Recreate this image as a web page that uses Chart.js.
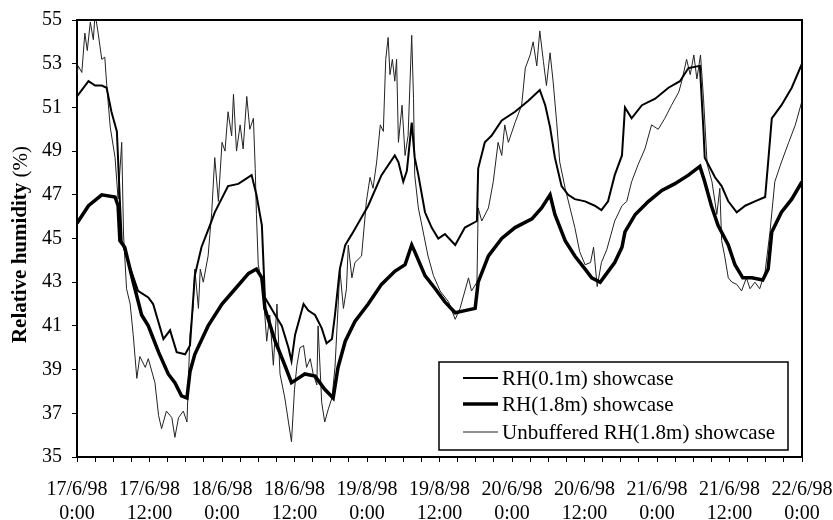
<!DOCTYPE html>
<html><head><meta charset="utf-8">
<script src="https://cdn.jsdelivr.net/npm/chart.js@4.4.1/dist/chart.umd.min.js"></script>
<style>html,body{margin:0;padding:0;background:#fff}</style>
</head><body>
<canvas id="c" width="833" height="520"></canvas>
<script>
// ---- tick labels ----
const dateLabels = ['17/6/98','17/6/98','18/6/98','18/6/98','19/8/98','19/8/98','20/6/98','20/6/98','21/6/98','21/6/98','22/6/98'];
const timeLabels = ['0:00','12:00','0:00','12:00','0:00','12:00','0:00','12:00','0:00','12:00','0:00'];
const yTitleBold = 'Relative humidity ';
const yTitleUnit = '(%)';

// ---- series (time in hours from 17/6/98 0:00, RH %) ----
const seriesNames = ['RH(0.1m) showcase','RH(1.8m) showcase','Unbuffered RH(1.8m) showcase'];

const t01 = [0,1.9,3.0,4.1,4.9,5.7,6.6,7.1,7.4,8.5,10.1,11.8,12.6,14.3,15.4,16.5,17.9,18.7,19.5,20.6,22.0,22.8,25.0,26.7,28.9,29.7,30.6,31.1,32.8,33.9,35.0,35.5,36.1,37.5,38.3,39.4,40.5,41.3,42.2,42.7,43.5,44.4,45.5,48.2,50.4,52.6,53.2,54.0,54.6,55.4,55.9,56.5,57.6,58.7,59.8,60.9,62.6,64.2,66.2,66.4,67.5,68.6,70.3,72.5,74.7,76.6,77.5,78.3,79.1,80.2,81.3,82.4,84.1,85.7,86.8,87.9,89.0,90.2,90.7,91.8,93.5,95.7,97.9,99.8,101.2,103.1,103.7,103.9,105.6,106.7,107.8,109.2,110.6,112.2,113.9,114.4,115.0,116.6,118.3,120.0];
const rh01 = [51.5,52.2,52.0,52.0,51.9,50.8,49.9,46.7,44.9,43.9,42.6,42.3,42.0,40.4,40.8,39.8,39.7,40.1,43.3,44.6,45.6,46.2,47.4,47.5,47.9,47.0,45.6,42.3,41.5,41.0,40.0,39.4,40.6,42.0,41.7,41.5,40.9,40.2,40.4,41.5,43.6,44.7,45.2,46.5,47.9,48.8,48.5,47.6,48.1,50.3,48.7,47.9,46.2,45.5,45.0,45.2,44.7,45.5,45.8,48.2,49.4,49.7,50.4,50.8,51.3,51.8,51.1,50.1,48.7,47.4,47.0,46.8,46.7,46.5,46.3,46.7,47.9,48.8,51.0,50.5,51.1,51.4,51.9,52.2,52.8,52.9,49.9,48.7,47.8,47.4,46.7,46.2,46.5,46.7,46.9,48.5,50.5,51.1,51.9,53.0];

const t18 = [0,1.9,4.1,6.3,6.8,7.1,7.9,9.3,10.7,11.8,13.5,15.1,16.2,17.3,18.2,18.7,19.5,21.7,24.0,26.2,28.4,29.7,30.6,31.1,32.8,34.4,35.5,36.6,37.7,39.4,41.0,42.4,43.2,44.4,46.0,48.2,50.4,52.6,54.3,55.4,55.9,57.6,59.3,60.9,62.6,64.2,65.9,66.4,68.1,70.3,72.5,75.3,76.9,78.3,79.1,80.8,82.4,84.1,85.2,86.6,87.4,89.0,90.2,90.7,92.4,94.6,96.8,98.9,101.2,103.1,103.9,105.0,106.1,107.8,108.9,110.2,111.7,113.5,114.4,115.0,116.6,118.3,120.0];
const rh18 = [45.7,46.5,47.0,46.9,46.5,44.9,44.6,43.0,41.5,41.0,39.8,38.8,38.4,37.8,37.7,38.9,39.7,41.0,42.0,42.7,43.4,43.6,43.2,41.8,40.3,39.2,38.4,38.6,38.8,38.7,38.1,37.7,39.1,40.3,41.2,42.0,42.9,43.5,43.8,44.7,44.4,43.3,42.7,42.1,41.6,41.7,41.8,43.0,44.2,45.0,45.5,45.9,46.4,47.0,46.1,44.9,44.2,43.6,43.2,43.0,43.3,43.9,44.6,45.3,46.1,46.7,47.2,47.5,47.9,48.3,47.6,46.5,45.6,44.7,43.8,43.2,43.2,43.1,43.6,45.3,46.2,46.8,47.6];

const tUn = [0,0.2,0.8,1.3,1.7,2.2,2.7,3.0,3.5,4.1,4.6,4.9,5.5,6.3,6.8,7.4,7.7,8.2,8.8,9.3,9.9,10.4,11.3,11.8,12.9,13.5,14.0,14.8,15.7,16.2,16.8,17.6,18.2,18.7,19.2,19.5,20.1,20.4,20.9,21.7,22.3,22.8,23.4,24.0,24.5,25.0,25.6,25.9,26.4,27.0,27.5,28.1,28.6,29.2,29.5,29.7,30.0,30.8,31.4,31.9,32.5,33.1,33.6,34.4,35.0,35.5,36.0,36.4,36.9,37.5,38.0,38.6,39.1,39.7,39.9,40.5,41.0,41.6,42.2,42.7,43.2,43.5,44.1,44.6,44.9,45.5,46.0,47.1,47.9,48.5,49.0,49.6,50.2,50.7,51.1,51.5,51.8,52.2,52.6,52.9,53.2,53.8,54.3,54.8,55.4,55.7,55.9,56.5,57.3,58.1,59.0,60.1,61.5,62.6,63.4,64.2,64.8,65.3,66.2,66.4,67.0,68.1,68.9,69.7,70.3,70.8,71.4,72.5,73.6,74.2,75.0,75.5,76.1,76.6,77.2,77.7,78.3,78.8,79.4,79.9,80.8,81.6,82.4,83.2,84.1,85.0,85.5,86.1,86.8,87.7,88.4,89.0,90.2,91.0,91.8,92.9,94.0,95.1,96.2,97.3,98.4,99.6,100.1,100.9,101.5,102.1,102.6,103.2,103.7,104.3,105.1,105.9,106.4,106.7,107.2,107.8,108.4,109.2,110.0,110.8,111.4,112.2,113.0,113.9,114.7,115.5,116.6,117.8,118.9,120.0];
const rhUn = [52.5,52.9,52.6,54.4,53.6,54.9,54.1,55.3,54.4,53.2,53.3,52.1,50.1,48.7,46.8,49.4,45.2,42.7,42.0,40.6,38.6,39.6,39.1,39.5,38.4,36.9,36.3,37.1,36.8,35.9,36.8,37.1,36.6,40.6,41.8,43.6,41.8,43.6,43.0,44.2,46.2,48.7,46.7,49.4,49.0,50.8,49.7,51.6,49.0,50.2,49.1,51.5,50.0,50.5,48.2,46.1,43.8,42.6,40.3,41.5,39.2,42.0,38.8,37.7,36.6,35.7,38.1,39.2,40.0,40.1,39.1,39.5,38.8,38.3,41.0,37.5,36.6,37.2,37.7,39.1,41.8,43.6,41.8,42.7,44.7,43.2,43.9,44.2,46.7,47.8,47.3,48.5,50.2,49.9,53.2,54.2,52.5,53.2,52.2,53.2,49.4,51.1,48.8,49.7,54.3,51.4,47.9,46.4,45.3,44.2,43.3,42.6,42.1,41.3,41.8,42.6,43.2,42.6,43.0,46.4,45.8,46.4,47.6,49.4,48.8,50.2,49.4,50.3,51.1,52.8,53.4,54.0,52.9,54.5,53.1,52.0,53.5,52.2,50.3,48.5,47.3,46.4,45.5,44.4,43.8,43.9,44.6,42.8,43.9,44.5,45.2,45.8,46.5,46.7,47.6,48.4,49.1,50.2,50.0,50.5,51.1,51.7,52.2,53.2,52.5,53.4,52.3,53.4,51.4,48.4,47.6,46.1,47.3,44.9,44.2,43.2,43.0,42.9,42.6,43.2,42.7,43.0,42.7,43.5,45.3,47.6,48.5,49.4,50.2,51.3];

const FONT = "'Liberation Serif','Times New Roman',serif";
const pts = (t, v) => t.map((x, i) => ({x, y: v[i]}));

const frame = {
  id: 'frame',
  afterDatasetsDraw(chart) {
    const {ctx, chartArea: a} = chart;
    ctx.save();
    ctx.strokeStyle = '#000';
    ctx.lineWidth = 2;
    ctx.beginPath();
    ctx.moveTo(a.left, a.top);
    ctx.lineTo(a.right, a.top);
    ctx.lineTo(a.right, a.bottom);
    ctx.stroke();
    ctx.restore();
  }
};

// y-axis title with bold words and regular unit
const yTitle = {
  id: 'yTitle',
  afterDraw(chart) {
    const {ctx, chartArea: a} = chart;
    ctx.save();
    const cy = (a.top + a.bottom) / 2 + 6;
    ctx.translate(21, cy);
    ctx.rotate(-Math.PI / 2);
    ctx.fillStyle = '#000';
    ctx.textBaseline = 'middle';
    ctx.textAlign = 'left';
    const fb = 'bold 21px ' + FONT, fr = '21px ' + FONT;
    ctx.font = fb; const wb = ctx.measureText(yTitleBold).width;
    ctx.font = fr; const wr = ctx.measureText(yTitleUnit).width;
    const x0 = -(wb + wr) / 2;
    ctx.font = fb; ctx.fillText(yTitleBold, x0, 0);
    ctx.font = fr; ctx.fillText(yTitleUnit, x0 + wb, 0);
    ctx.restore();
  }
};

const boxLegend = {
  id: 'boxLegend',
  afterDraw(chart) {
    const {ctx, chartArea: a} = chart;
    const w = 349, h = 88;
    const x0 = a.right - 14 - w, y0 = a.bottom - 7 - h;
    ctx.save();
    ctx.fillStyle = '#fff';
    ctx.fillRect(x0, y0, w, h);
    ctx.strokeStyle = '#000';
    ctx.lineWidth = 1.5;
    ctx.strokeRect(x0, y0, w, h);
    const rows = [16, 42, 70];
    ctx.font = '21px ' + FONT;
    ctx.textBaseline = 'middle';
    ctx.fillStyle = '#000';
    chart.data.datasets.forEach((ds, i) => {
      const y = y0 + rows[i];
      ctx.strokeStyle = ds.borderColor;
      ctx.lineWidth = ds.borderWidth;
      ctx.beginPath();
      ctx.moveTo(x0 + 24, y);
      ctx.lineTo(x0 + 59, y);
      ctx.stroke();
      ctx.fillText(ds.label, x0 + 63, y + 1);
    });
    ctx.restore();
  }
};

new Chart(document.getElementById('c'), {
  type: 'line',
  data: {
    datasets: [
      {label: seriesNames[0], data: pts(t01, rh01), borderColor: '#000', borderWidth: 2, pointRadius: 0, tension: 0, order: 2},
      {label: seriesNames[1], data: pts(t18, rh18), borderColor: '#000', borderWidth: 3.5, pointRadius: 0, tension: 0, order: 1},
      {label: seriesNames[2], data: pts(tUn, rhUn), borderColor: '#222', borderWidth: 1, pointRadius: 0, tension: 0, order: 3}
    ]
  },
  options: {
    responsive: false,
    animation: false,
    devicePixelRatio: 1,
    layout: {padding: {left: 0, top: 20, right: 31, bottom: 0}},
    plugins: {legend: {display: false}, tooltip: {enabled: false}},
    scales: {
      x: {
        type: 'linear', min: 0, max: 120,
        ticks: {
          stepSize: 3, maxTicksLimit: 100, autoSkip: false, maxRotation: 0, minRotation: 0,
          padding: 16, color: '#000',
          font: {family: FONT, size: 20, lineHeight: 1.2},
          callback(v) {
            if (v % 12 !== 0) return '';
            const i = v / 12;
            return [dateLabels[i], timeLabels[i]];
          }
        },
        grid: {display: true, drawOnChartArea: false, drawTicks: true, tickLength: 5, color: '#000', lineWidth: 1},
        border: {display: true, color: '#000', width: 2},
        afterFit(s) { s.height = 63; s.paddingLeft = 0; s.paddingRight = 0; }
      },
      y: {
        min: 35, max: 55,
        ticks: {stepSize: 2, padding: 10, color: '#000', font: {family: FONT, size: 20}},
        grid: {display: true, drawOnChartArea: false, drawTicks: true, tickLength: 5, color: '#000', lineWidth: 1},
        border: {display: true, color: '#000', width: 2},
        title: {display: false},
        afterFit(s) { s.width = 77; s.paddingTop = 0; s.paddingBottom = 0; }
      }
    }
  },
  plugins: [frame, yTitle, boxLegend]
});
</script>
</body></html>
